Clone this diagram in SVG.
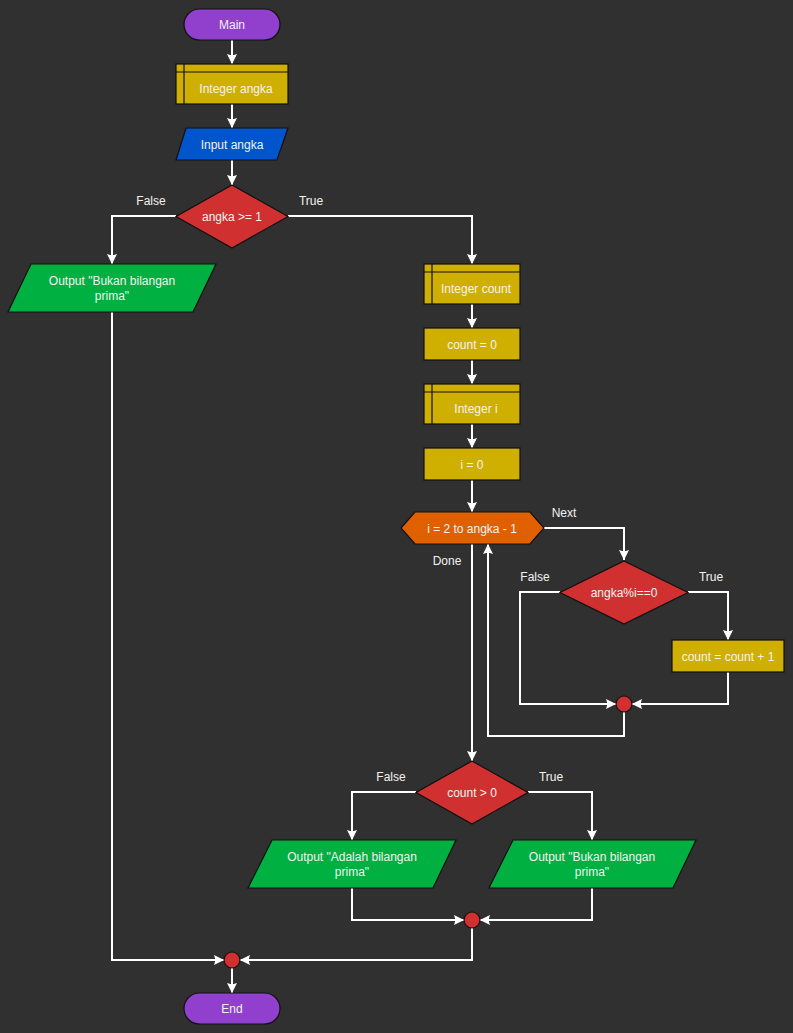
<svg xmlns="http://www.w3.org/2000/svg" width="793" height="1033" viewBox="0 0 793 1033">
  <style>
    .bg { fill: #303030; }
    .shape { stroke: #101010; stroke-width: 1.2; }
    .term { fill: #9040CC; }
    .decl { fill: #CFB000; }
    .assign { fill: #CFB000; }
    .input { fill: #0055CC; }
    .output { fill: #00B040; }
    .cond { fill: #D03030; }
    .loop { fill: #E06000; }
    .merge { fill: #D03030; }
    .inner { stroke: #101010; stroke-width: 1.2; fill: none; }
    .t { font-family: "Liberation Sans", Arial, sans-serif; font-size: 12px; fill: #F2F2F2; text-anchor: middle; dominant-baseline: central; }
    .lbl { font-family: "Liberation Sans", Arial, sans-serif; font-size: 12px; fill: #F2F2F2; text-anchor: middle; dominant-baseline: central; }
    .wire { fill: none; stroke: #FFFFFF; stroke-width: 2; marker-end: url(#arrow); }
    .plain { fill: none; stroke: #FFFFFF; stroke-width: 2; }
  </style>
  <defs>
    <marker id="arrow" markerUnits="userSpaceOnUse" markerWidth="10" markerHeight="10" viewBox="0 0 10 10" refX="10" refY="5" orient="auto">
      <path d="M0,0 L10,5 L0,10 L1.5,5 z" fill="#FFFFFF"/>
    </marker>
  </defs>

  <rect class="bg" x="0" y="0" width="793" height="1033"/>

  <!-- connectors -->
  <g id="connectors">
    <path class="wire" d="M232,40 V64"/>
    <path class="wire" d="M232,104 V128"/>
    <path class="wire" d="M232,160 V185"/>
    <path class="wire" d="M176,216 H112 V264"/>
    <path class="wire" d="M288,216 H472 V264"/>
    <path class="wire" d="M472,304 V328"/>
    <path class="wire" d="M472,360 V384"/>
    <path class="wire" d="M472,424 V448"/>
    <path class="wire" d="M472,480 V512"/>
    <path class="wire" d="M544,528 H624 V560"/>
    <path class="wire" d="M560,592 H520 V704 H616"/>
    <path class="wire" d="M688,592 H728 V640"/>
    <path class="wire" d="M728,672 V704 H632"/>
    <path class="wire" d="M624,712 V736 H488 V544"/>
    <path class="wire" d="M472,544 V761"/>
    <path class="wire" d="M416,792 H352 V840"/>
    <path class="wire" d="M528,792 H592 V840"/>
    <path class="wire" d="M352,888 V920 H464"/>
    <path class="wire" d="M592,888 V920 H480"/>
    <path class="wire" d="M472,928 V960 H240"/>
    <path class="wire" d="M112,312 V960 H224"/>
    <path class="wire" d="M232,968 V993"/>
    <text class="lbl" x="151" y="201">False</text>
    <text class="lbl" x="311" y="201">True</text>
    <text class="lbl" x="564" y="513">Next</text>
    <text class="lbl" x="447" y="561">Done</text>
    <text class="lbl" x="535" y="577">False</text>
    <text class="lbl" x="711" y="577">True</text>
    <text class="lbl" x="391" y="777">False</text>
    <text class="lbl" x="551" y="777">True</text>
  </g>

  <!-- start -->
  <g id="main">
    <rect class="shape term" x="184" y="9" width="96" height="31" rx="15.5"/>
    <text class="t" x="232" y="25">Main</text>
  </g>

  <g id="decl-angka">
    <rect class="shape decl" x="176" y="64" width="112" height="40"/>
    <path class="inner" d="M176,72 H288 M184,64 V104"/>
    <text class="t" x="236" y="89">Integer angka</text>
  </g>

  <g id="input-angka">
    <polygon class="shape input" points="186,128 288,128 277,160 176,160"/>
    <text class="t" x="232" y="145">Input angka</text>
  </g>

  <g id="cond-angka">
    <polygon class="shape cond" points="232,185 288,216.5 232,248 176,216.5"/>
    <text class="t" x="232" y="217">angka &gt;= 1</text>
  </g>

  <g id="out-bukan-1">
    <polygon class="shape output" points="31,264 216,264 193,312 8,312"/>
    <text class="t" x="112" y="281">Output "Bukan bilangan</text>
    <text class="t" x="112" y="296">prima"</text>
  </g>

  <g id="decl-count">
    <rect class="shape decl" x="424" y="264" width="96" height="40"/>
    <path class="inner" d="M424,272 H520 M432,264 V304"/>
    <text class="t" x="476" y="289">Integer count</text>
  </g>

  <g id="assign-count">
    <rect class="shape assign" x="424" y="328" width="96" height="32"/>
    <text class="t" x="472" y="345">count = 0</text>
  </g>

  <g id="decl-i">
    <rect class="shape decl" x="424" y="384" width="96" height="40"/>
    <path class="inner" d="M424,392 H520 M432,384 V424"/>
    <text class="t" x="476" y="409">Integer i</text>
  </g>

  <g id="assign-i">
    <rect class="shape assign" x="424" y="448" width="96" height="32"/>
    <text class="t" x="472" y="465">i = 0</text>
  </g>

  <g id="loop-i">
    <polygon class="shape loop" points="401,528 415,512 530,512 544,528 530,544 415,544"/>
    <text class="t" x="472" y="529">i = 2 to angka - 1</text>
  </g>

  <g id="cond-mod">
    <polygon class="shape cond" points="624,561 688,592.5 624,624 560,592.5"/>
    <text class="t" x="624" y="593">angka%i==0</text>
  </g>

  <g id="assign-inc">
    <rect class="shape assign" x="672" y="640" width="112" height="32"/>
    <text class="t" x="728" y="657">count = count + 1</text>
  </g>

  <g id="merge-mod">
    <circle class="shape merge" cx="624" cy="704" r="8"/>
  </g>

  <g id="cond-count">
    <polygon class="shape cond" points="472,761 528,792.5 472,824 416,792.5"/>
    <text class="t" x="472" y="793">count &gt; 0</text>
  </g>

  <g id="out-adalah">
    <polygon class="shape output" points="272,840 456,840 433,888 248,888"/>
    <text class="t" x="352" y="857">Output "Adalah bilangan</text>
    <text class="t" x="352" y="872">prima"</text>
  </g>

  <g id="out-bukan-2">
    <polygon class="shape output" points="513,840 696,840 673,888 489,888"/>
    <text class="t" x="592" y="857">Output "Bukan bilangan</text>
    <text class="t" x="592" y="872">prima"</text>
  </g>

  <g id="merge-count">
    <circle class="shape merge" cx="472" cy="920" r="8"/>
  </g>

  <g id="merge-main">
    <circle class="shape merge" cx="232" cy="960" r="8"/>
  </g>

  <g id="end">
    <rect class="shape term" x="184" y="993" width="96" height="31" rx="15.5"/>
    <text class="t" x="232" y="1009">End</text>
  </g>
</svg>
